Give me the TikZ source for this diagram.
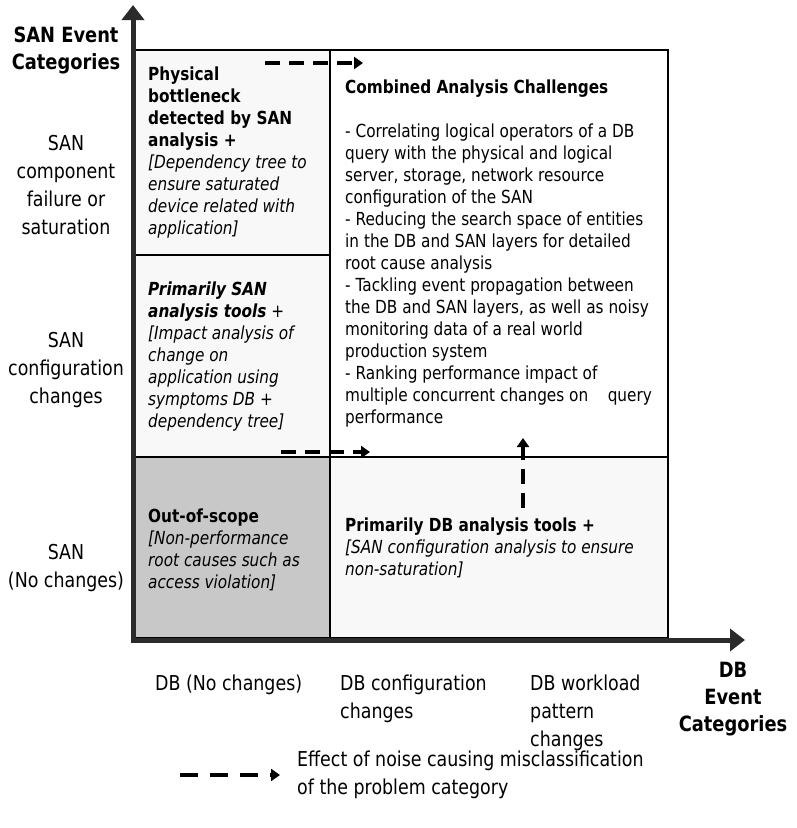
\documentclass[tikz,border=0pt]{standalone}
\usepackage{fontspec}
\setmainfont{DejaVu Sans}[FakeStretch=0.85]
\usepackage{xcolor}
\definecolor{cellbg}{HTML}{F8F8F8}
\definecolor{oosbg}{HTML}{C8C8C8}
\definecolor{axisgray}{HTML}{2B2B2B}
\usepackage{tikz}
\usetikzlibrary{arrows.meta,positioning,calc}

\begin{document}
\begin{tikzpicture}[x=1pt,y=-1pt,
  cell/.style={draw=black,line width=1.4pt},
  celltext/.style={anchor=north west,align=left,inner sep=0pt,font=\fontsize{18}{22}\selectfont},
  axislbl/.style={anchor=north,align=center,inner sep=0pt,font=\fontsize{20.5}{28}\selectfont},
  axistitle/.style={anchor=north,align=center,inner sep=0pt,font=\fontsize{21}{27}\selectfont\bfseries},
  axisline/.style={line width=5pt,draw=axisgray,-{Triangle[length=15pt,width=22pt]}},
  noisearrow/.style={line width=4pt,dash pattern=on 15pt off 9pt,-{Triangle[length=9pt,width=12pt]}}]
\useasboundingbox (0,0) rectangle (797,828);
% matrix cells
\path[cell,fill=cellbg] (133,50) rectangle (330,255);
\path[cell,fill=cellbg] (133,255) rectangle (330,457);
\path[cell,fill=oosbg] (133,457) rectangle (330,638);
\path[cell,fill=white] (330,50) rectangle (668,457);
\path[cell,fill=cellbg] (330,457) rectangle (668,638);
% axes
\coordinate (origin) at (133,640);
\coordinate (ytip) at (133,5);
\coordinate (xtip) at (745,640);
\draw[axisline] ($(origin)+(0,3)$) -- (ytip);
\draw[axisline] ($(origin)+(-2,0)$) -- (xtip);
% cell texts
\node[celltext] (phys) at (148,67) {\textbf{Physical}\\\textbf{bottleneck}\\\textbf{detected by SAN}\\\textbf{analysis +}\\\textit{[Dependency tree to}\\\textit{ensure saturated}\\\textit{device related with}\\\textit{application]}};
\node[celltext] (sanprim) at (148,282) {\textbf{\textit{Primarily SAN}}\\\textbf{\textit{analysis tools}} +\\\textit{[Impact analysis of}\\\textit{change on}\\\textit{application using}\\\textit{symptoms DB +}\\\textit{dependency tree]}};
\node[celltext] (combined) at (345,80) {\textbf{Combined Analysis Challenges}\\[22pt]
- Correlating logical operators of a DB\\query with the physical and logical\\server, storage, network resource\\configuration of the SAN\\
- Reducing the search space of entities\\in the DB and SAN layers for detailed\\root cause analysis\\
- Tackling event propagation between\\the DB and SAN layers, as well as noisy\\monitoring data of a real world\\production system\\
- Ranking performance impact of\\multiple concurrent changes on \ \ \ query\\performance};
\node[celltext] (oos) at (148,509) {\textbf{Out-of-scope}\\\textit{[Non-performance}\\\textit{root causes such as}\\\textit{access violation]}};
\node[celltext] (dbprim) at (345,518) {\textbf{Primarily DB analysis tools +}\\\textit{[SAN configuration analysis to ensure}\\\textit{non-saturation]}};
% noise arrows
\coordinate (n1s) at (265,63);  \coordinate (n1e) at (363,63);
\coordinate (n2s) at (281,452); \coordinate (n2e) at (370,452);
\coordinate (n3s) at (523,508); \coordinate (n3e) at (523,438);
\draw[noisearrow] (n1s) -- (n1e);
\draw[noisearrow] (n2s) -- (n2e);
\draw[noisearrow] (n3s) -- (n3e);
% axis labels
\node[axistitle] (sanaxis) at (66,27) {SAN Event\\Categories};
\node[axislbl] (sanfail) at (66,135) {SAN\\component\\failure or\\saturation};
\node[axislbl] (sanconf) at (66,332) {SAN\\configuration\\changes};
\node[axislbl] (sannone) at (66,544) {SAN\\(No changes)};
\node[axislbl,anchor=north west] (dbnone) at (155,675) {DB (No changes)};
\node[axislbl,anchor=north west,align=left] (dbconf) at (340,675) {DB configuration\\changes};
\node[axislbl,anchor=north west,align=left] (dbload) at (530,675) {DB workload\\pattern\\changes};
\node[axistitle] (dbaxis) at (733,662) {DB\\Event\\Categories};
% legend
\coordinate (legs) at (180,775); \coordinate (lege) at (280,775);
\draw[noisearrow,dash pattern=on 18pt off 12pt] (legs) -- (lege);
\node[axislbl,anchor=west,align=left] (legtext) at (297,775) {Effect of noise causing misclassification\\of the problem category};
\end{tikzpicture}
\end{document}
